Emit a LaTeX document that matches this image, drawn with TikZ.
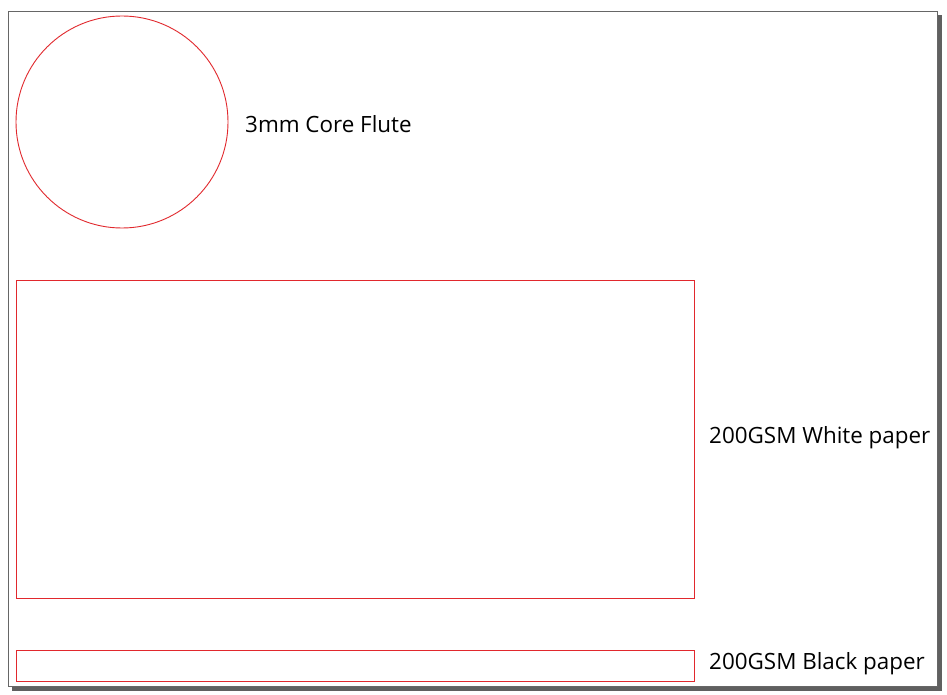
\documentclass[tikz,border=0pt]{standalone}
\usepackage{fontspec}
\setmainfont{Open Sans}
\definecolor{partred}{RGB}{225,40,45}
\begin{document}
\begin{tikzpicture}[x=1pt,y=-1pt,
  part/.style={draw=partred, line width=0.9pt},
  lbl/.style={anchor=west, inner sep=0pt, font=\fontsize{22.4}{26}\selectfont, text=black}]
\useasboundingbox (0,0) rectangle (947,695);
\fill[gray!75!black] (12,15) rectangle (942,691);
\filldraw[fill=white, draw=gray!80!black, line width=1pt] (8,12) rectangle (937,686);
\node[part, circle, minimum size=212pt, inner sep=0pt] (core) at (122,122) {};
\node[part, rectangle, minimum width=678pt, minimum height=318pt, inner sep=0pt, anchor=north west] (white) at (16,280) {};
\node[part, rectangle, minimum width=678pt, minimum height=31pt, inner sep=0pt, anchor=north west] (black) at (16,650) {};
\node[lbl] (lcore) at (245,124) {3mm Core Flute};
\node[lbl] (lwhite) at (709,438) {200GSM White paper};
\node[lbl] (lblack) at (709,664) {200GSM Black paper};
\end{tikzpicture}
\end{document}
